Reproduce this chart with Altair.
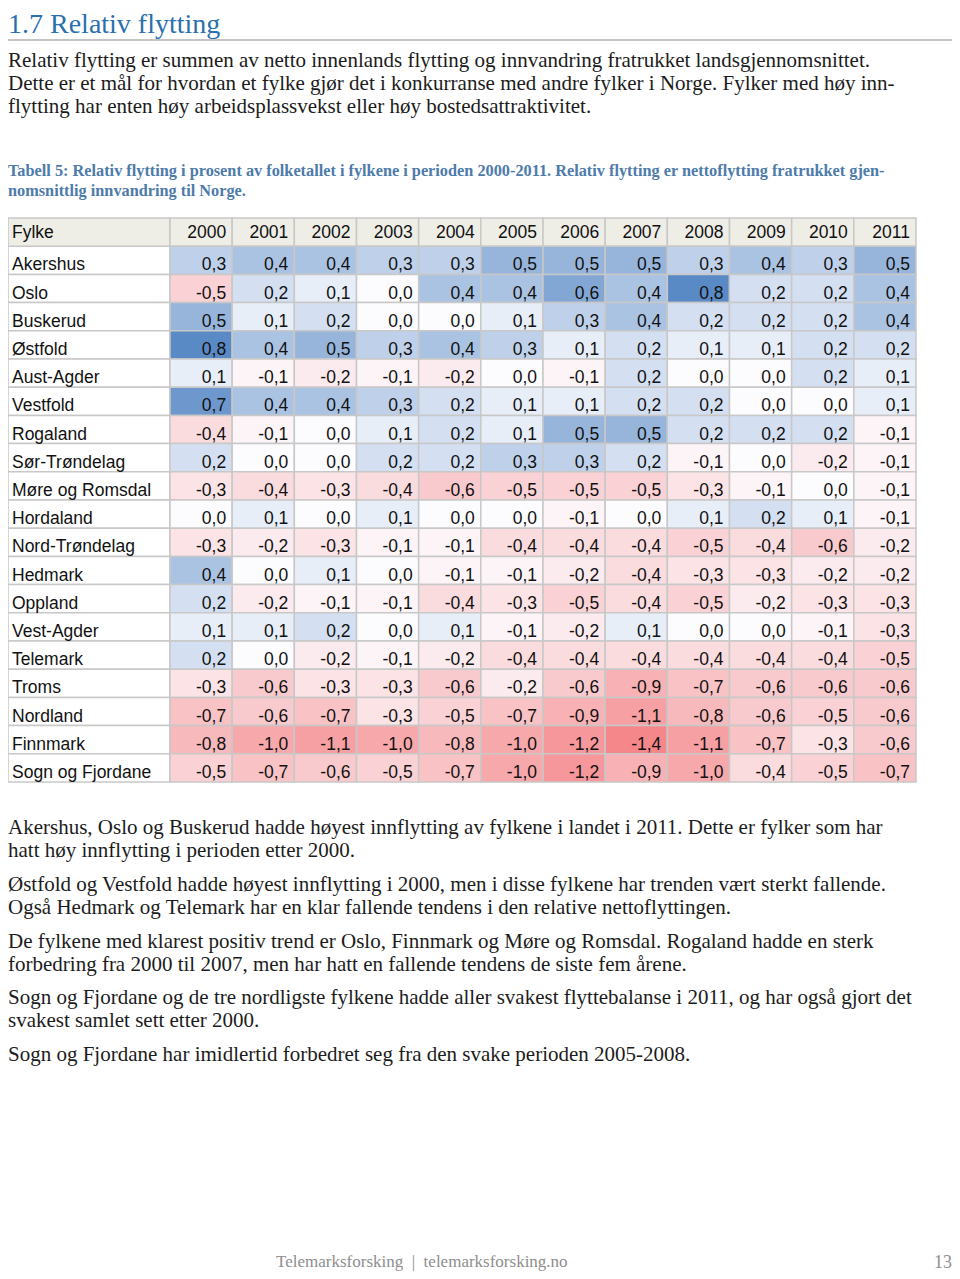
import altair as alt
import pandas as pd

# ---------------- data ----------------
fylker = ["Akershus", "Oslo", "Buskerud", "Østfold", "Aust-Agder", "Vestfold", "Rogaland",
          "Sør-Trøndelag", "Møre og Romsdal", "Hordaland", "Nord-Trøndelag", "Hedmark",
          "Oppland", "Vest-Agder", "Telemark", "Troms", "Nordland", "Finnmark", "Sogn og Fjordane"]
years = ["2000", "2001", "2002", "2003", "2004", "2005", "2006", "2007", "2008", "2009", "2010", "2011"]

akershus = [0.3, 0.4, 0.4, 0.3, 0.3, 0.5, 0.5, 0.5, 0.3, 0.4, 0.3, 0.5]
oslo = [-0.5, 0.2, 0.1, 0.0, 0.4, 0.4, 0.6, 0.4, 0.8, 0.2, 0.2, 0.4]
buskerud = [0.5, 0.1, 0.2, 0.0, 0.0, 0.1, 0.3, 0.4, 0.2, 0.2, 0.2, 0.4]
ostfold = [0.8, 0.4, 0.5, 0.3, 0.4, 0.3, 0.1, 0.2, 0.1, 0.1, 0.2, 0.2]
aust_agder = [0.1, -0.1, -0.2, -0.1, -0.2, 0.0, -0.1, 0.2, 0.0, 0.0, 0.2, 0.1]
vestfold = [0.7, 0.4, 0.4, 0.3, 0.2, 0.1, 0.1, 0.2, 0.2, 0.0, 0.0, 0.1]
rogaland = [-0.4, -0.1, 0.0, 0.1, 0.2, 0.1, 0.5, 0.5, 0.2, 0.2, 0.2, -0.1]
sor_trondelag = [0.2, 0.0, 0.0, 0.2, 0.2, 0.3, 0.3, 0.2, -0.1, 0.0, -0.2, -0.1]
more_romsdal = [-0.3, -0.4, -0.3, -0.4, -0.6, -0.5, -0.5, -0.5, -0.3, -0.1, 0.0, -0.1]
hordaland = [0.0, 0.1, 0.0, 0.1, 0.0, 0.0, -0.1, 0.0, 0.1, 0.2, 0.1, -0.1]
nord_trondelag = [-0.3, -0.2, -0.3, -0.1, -0.1, -0.4, -0.4, -0.4, -0.5, -0.4, -0.6, -0.2]
hedmark = [0.4, 0.0, 0.1, 0.0, -0.1, -0.1, -0.2, -0.4, -0.3, -0.3, -0.2, -0.2]
oppland = [0.2, -0.2, -0.1, -0.1, -0.4, -0.3, -0.5, -0.4, -0.5, -0.2, -0.3, -0.3]
vest_agder = [0.1, 0.1, 0.2, 0.0, 0.1, -0.1, -0.2, 0.1, 0.0, 0.0, -0.1, -0.3]
telemark = [0.2, 0.0, -0.2, -0.1, -0.2, -0.4, -0.4, -0.4, -0.4, -0.4, -0.4, -0.5]
troms = [-0.3, -0.6, -0.3, -0.3, -0.6, -0.2, -0.6, -0.9, -0.7, -0.6, -0.6, -0.6]
nordland = [-0.7, -0.6, -0.7, -0.3, -0.5, -0.7, -0.9, -1.1, -0.8, -0.6, -0.5, -0.6]
finnmark = [-0.8, -1.0, -1.1, -1.0, -0.8, -1.0, -1.2, -1.4, -1.1, -0.7, -0.3, -0.6]
sogn_fjordane = [-0.5, -0.7, -0.6, -0.5, -0.7, -1.0, -1.2, -0.9, -1.0, -0.4, -0.5, -0.7]

values = [akershus, oslo, buskerud, ostfold, aust_agder, vestfold, rogaland, sor_trondelag,
          more_romsdal, hordaland, nord_trondelag, hedmark, oppland, vest_agder, telemark,
          troms, nordland, finnmark, sogn_fjordane]

header_label = "Fylke"

heading = "1.7 Relativ flytting"
intro = [
    "Relativ flytting er summen av netto innenlands flytting og innvandring fratrukket landsgjennomsnittet.",
    "Dette er et mål for hvordan et fylke gjør det i konkurranse med andre fylker i Norge. Fylker med høy inn-",
    "flytting har enten høy arbeidsplassvekst eller høy bostedsattraktivitet.",
]
caption = [
    "Tabell 5: Relativ flytting i prosent av folketallet i fylkene i perioden 2000-2011. Relativ flytting er nettoflytting fratrukket gjen-",
    "nomsnittlig innvandring til Norge.",
]
para2 = [
    "Akershus, Oslo og Buskerud hadde høyest innflytting av fylkene i landet i 2011. Dette er fylker som har",
    "hatt høy innflytting i perioden etter 2000.",
]
para3 = [
    "Østfold og Vestfold hadde høyest innflytting i 2000, men i disse fylkene har trenden vært sterkt fallende.",
    "Også Hedmark og Telemark har en klar fallende tendens i den relative nettoflyttingen.",
]
para4 = [
    "De fylkene med klarest positiv trend er Oslo, Finnmark og Møre og Romsdal. Rogaland hadde en sterk",
    "forbedring fra 2000 til 2007, men har hatt en fallende tendens de siste fem årene.",
]
para5 = [
    "Sogn og Fjordane og de tre nordligste fylkene hadde aller svakest flyttebalanse i 2011, og har også gjort det",
    "svakest samlet sett etter 2000.",
]
para6 = ["Sogn og Fjordane har imidlertid forbedret seg fra den svake perioden 2005-2008."]
footer = "Telemarksforsking\u2002|\u2002telemarksforsking.no"
page_no = "13"

# ---------------- tables ----------------
recs = []
for name, vals in zip(fylker, values):
    for yr, v in zip(years, vals):
        recs.append({"fylke": name, "year": yr, "value": v,
                     "label": f"{v:.1f}".replace(".", ",")})
cells = pd.DataFrame(recs)
header_df = pd.DataFrame({"fylke": [header_label] * len(years), "year": years})
names_df = pd.DataFrame({"fylke": fylker})
head_name_df = pd.DataFrame({"fylke": [header_label]})
dummy = pd.DataFrame({"k": [0]})

rows_order = [header_label] + fylker

GRID = "#c8c8c8"
BEIGE = "#eeede6"
SANS = "Liberation Sans"
SERIF = "Liberation Serif"

X_SCALE = alt.Scale(domain=years, range=[162, 908], paddingInner=0, paddingOuter=0)
Y_SCALE = alt.Scale(domain=rows_order, range=[210, 774], paddingInner=0, paddingOuter=0)


def xcol(**kw):
    return alt.X("year:N", scale=X_SCALE, axis=None, **kw)


def yrow(**kw):
    return alt.Y("fylke:N", scale=Y_SCALE, axis=None, **kw)


name_cells = alt.Chart(names_df).mark_rect(fill="white", stroke=GRID, strokeWidth=1.5).encode(
    x=alt.value(0), x2=alt.value(162), y=yrow())
head_name_cell = alt.Chart(head_name_df).mark_rect(fill=BEIGE, stroke=GRID, strokeWidth=1.5).encode(
    x=alt.value(0), x2=alt.value(162), y=yrow())
head_cells = alt.Chart(header_df).mark_rect(fill=BEIGE, stroke=GRID, strokeWidth=1.5).encode(
    x=xcol(), y=yrow())
value_cells = alt.Chart(cells).mark_rect(stroke=GRID, strokeWidth=1.5).encode(
    x=xcol(), y=yrow(),
    color=alt.Color("value:Q", legend=None,
                    scale=alt.Scale(domain=[-1.4, 0, 0.8],
                                    range=["#f5878a", "#fcfcff", "#5a8ac6"],
                                    interpolate="rgb")))

value_text = alt.Chart(cells).mark_text(
    align="right", baseline="middle", dx=-6, dy=5, font=SANS, fontSize=17.5, color="#111111"
).encode(x=xcol(bandPosition=1), y=yrow(), text="label:N")
year_text = alt.Chart(header_df).mark_text(
    align="right", baseline="middle", dx=-6, dy=1, font=SANS, fontSize=17.5, color="#111111"
).encode(x=xcol(bandPosition=1), y=yrow(), text="year:N")
name_text = alt.Chart(names_df).mark_text(
    align="left", baseline="middle", dy=5, font=SANS, fontSize=17.5, color="#111111"
).encode(x=alt.value(4), y=yrow(), text="fylke:N")
head_name_text = alt.Chart(head_name_df).mark_text(
    align="left", baseline="middle", dy=1, font=SANS, fontSize=17.5, color="#111111"
).encode(x=alt.value(4), y=yrow(), text="fylke:N")


def text_block(lines, y, size=21, color="#1c1c1c", font=SERIF, weight="normal", lh=23, x=0, align="left"):
    return alt.Chart(dummy).mark_text(
        text=lines, align=align, baseline="alphabetic", font=font, fontSize=size,
        fontWeight=weight, lineHeight=lh, color=color
    ).encode(x=alt.value(x), y=alt.value(y))


heading_t = text_block([heading], 25, size=28, color="#2a70ae")
heading_rule = alt.Chart(dummy).mark_rule(color="#c4c4c4", strokeWidth=2).encode(
    x=alt.value(0), x2=alt.value(944), y=alt.value(32))
intro_t = text_block(intro, 59)
caption_t = text_block(caption, 168, size=16.3, color="#4d7bab", weight="bold", lh=20)
p2 = text_block(para2, 826)
p3 = text_block(para3, 883)
p4 = text_block(para4, 940)
p5 = text_block(para5, 996)
p6 = text_block(para6, 1053)
footer_t = text_block([footer], 1259, size=17, color="#8e8e8e", x=268)
page_t = text_block([page_no], 1260, size=18, color="#8e8e8e", x=944, align="right")

chart = alt.layer(
    heading_t, heading_rule, intro_t, caption_t,
    name_cells, head_name_cell, head_cells, value_cells,
    value_text, year_text, name_text, head_name_text,
    p2, p3, p4, p5, p6, footer_t, page_t,
).properties(
    width=944, height=1263, padding=0,
    autosize=alt.AutoSizeParams(type="none"),
).configure_view(stroke=None)

chart.save("out.html", embed_options={"renderer": "svg", "actions": False})
